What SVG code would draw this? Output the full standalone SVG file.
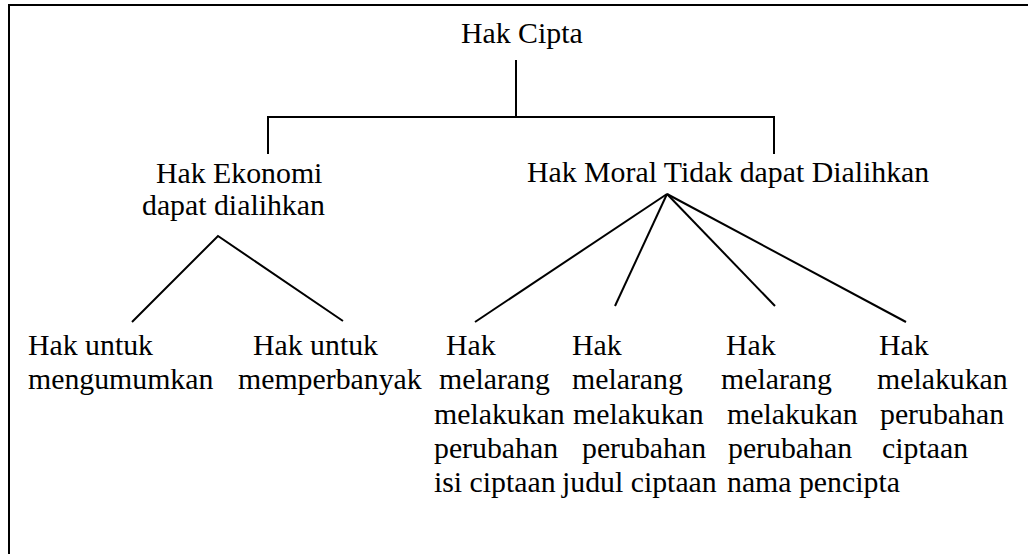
<svg xmlns="http://www.w3.org/2000/svg" width="1028" height="554" viewBox="0 0 1028 554">
  <style>
    .t { font-family: 'Liberation Serif', 'Times New Roman', serif; font-size: 29.8px; fill: #000; }
    .ln { stroke: #000; stroke-width: 2; fill: none; }
  </style>
  <rect x="0" y="0" width="1028" height="554" fill="#fff"/>
  <!-- outer frame (runs past the right and bottom edges) -->
  <rect x="9" y="5" width="1030" height="560" class="ln"/>

  <g id="connectors">
    <polyline class="ln" points="516,60 516,117"/>
    <polyline class="ln" points="268,154 268,117 774,117 774,154"/>
    <polyline class="ln" points="132,322 218,236 343,321"/>
    <line class="ln" x1="667" y1="194" x2="475" y2="322"/>
    <line class="ln" x1="667" y1="194" x2="615" y2="306"/>
    <line class="ln" x1="667" y1="194" x2="775" y2="306"/>
    <line class="ln" x1="667" y1="194" x2="906" y2="322"/>
  </g>

  <g id="hak-cipta"><text class="t" x="461" y="43">Hak Cipta</text></g>

  <g id="hak-ekonomi">
    <text class="t" x="156" y="183">Hak Ekonomi</text>
    <text class="t" x="142" y="215">dapat dialihkan</text>
  </g>

  <g id="hak-moral"><text class="t" x="527" y="182">Hak Moral Tidak dapat Dialihkan</text></g>

  <g id="mengumumkan">
    <text class="t" x="28" y="355">Hak untuk</text>
    <text class="t" x="28" y="389">mengumumkan</text>
  </g>

  <g id="memperbanyak">
    <text class="t" x="253" y="355">Hak untuk</text>
    <text class="t" x="238" y="389">memperbanyak</text>
  </g>

  <g id="isi-ciptaan">
    <text class="t" x="446" y="355">Hak</text>
    <text class="t" x="439" y="389">melarang</text>
    <text class="t" x="434" y="423.5">melakukan</text>
    <text class="t" x="434" y="458">perubahan</text>
    <text class="t" x="434" y="492">isi ciptaan</text>
  </g>

  <g id="judul-ciptaan">
    <text class="t" x="572" y="355">Hak</text>
    <text class="t" x="572" y="389">melarang</text>
    <text class="t" x="573" y="423.5">melakukan</text>
    <text class="t" x="582" y="458">perubahan</text>
    <text class="t" x="562" y="492">judul ciptaan</text>
  </g>

  <g id="nama-pencipta">
    <text class="t" x="726" y="355">Hak</text>
    <text class="t" x="721" y="389">melarang</text>
    <text class="t" x="727" y="423.5">melakukan</text>
    <text class="t" x="728" y="458">perubahan</text>
    <text class="t" x="727" y="492">nama pencipta</text>
  </g>

  <g id="perubahan-ciptaan">
    <text class="t" x="879" y="355">Hak</text>
    <text class="t" x="877" y="389">melakukan</text>
    <text class="t" x="880" y="423.5">perubahan</text>
    <text class="t" x="882" y="458">ciptaan</text>
  </g>
</svg>
